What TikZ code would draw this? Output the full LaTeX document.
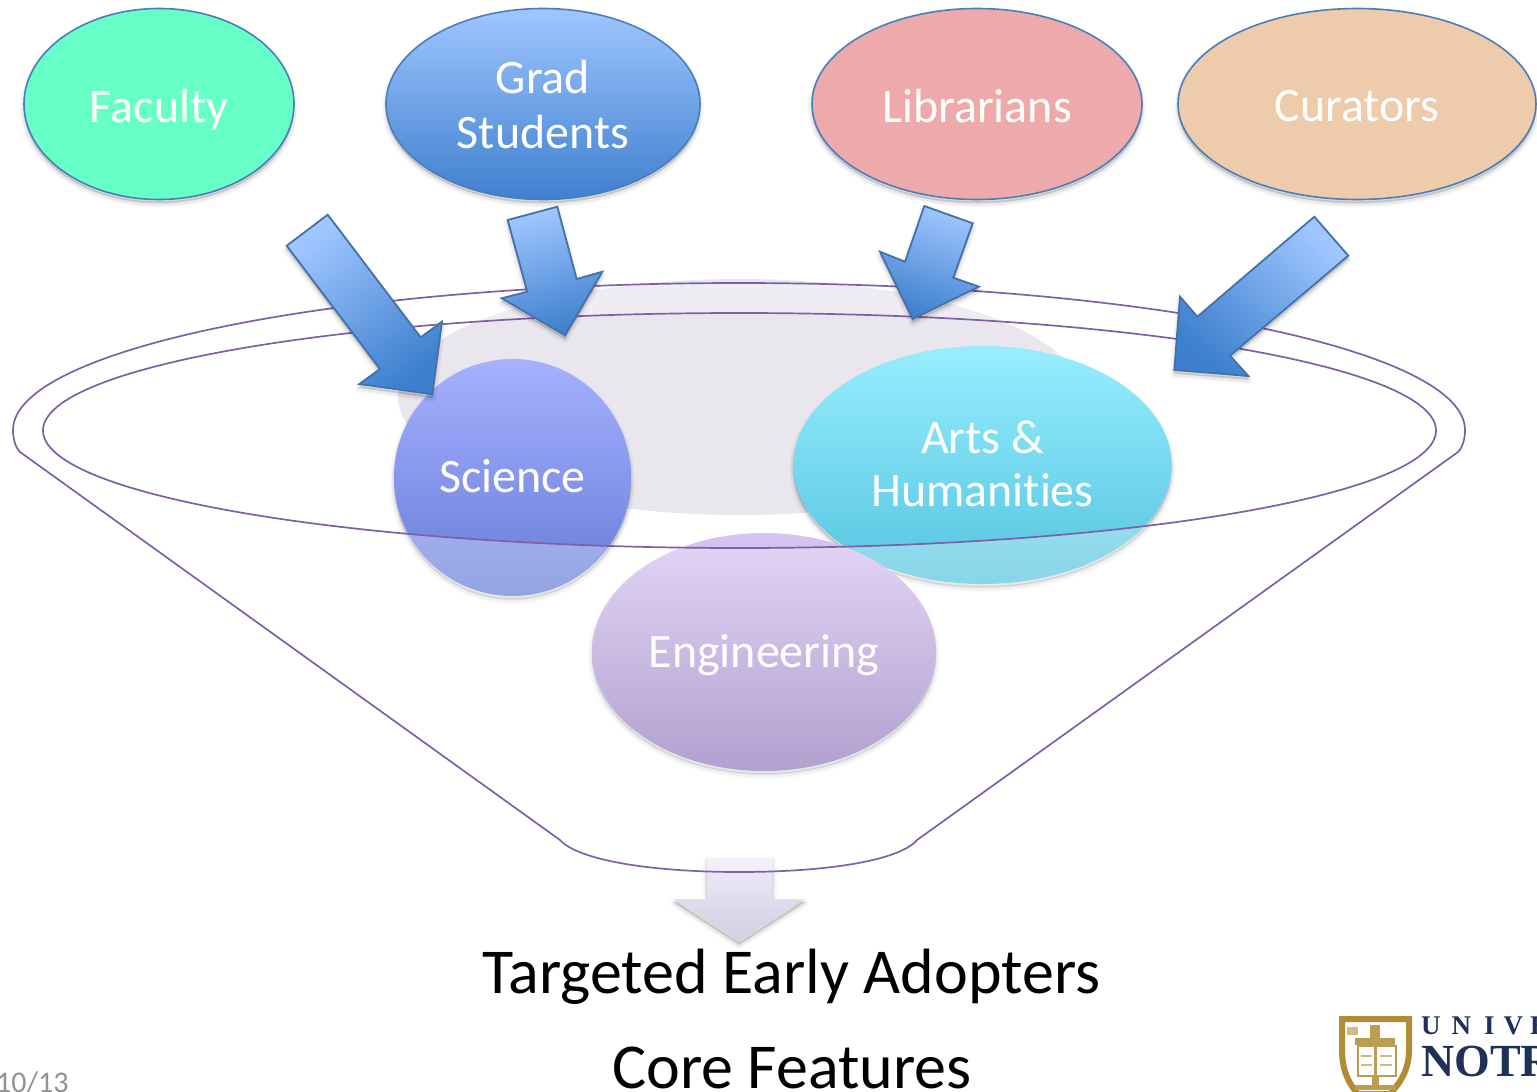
\documentclass[tikz,border=0pt]{standalone}
\usepackage{fontspec}
\setmainfont{Carlito}[Ligatures=NoCommon]
\newfontfamily\logofont{Liberation Serif}
\usetikzlibrary{shapes.geometric}
\definecolor{edgeblue}{HTML}{4A7EBB}
\definecolor{funnelline}{HTML}{7F5FA8}
\definecolor{arrowtop}{HTML}{A0C6FF}
\definecolor{arrowbot}{HTML}{3D80CE}
\definecolor{logogold}{HTML}{B08D35}
\definecolor{logonavy}{HTML}{1F3158}
\definecolor{discgrey}{HTML}{E9E6EE}
\definecolor{downtop}{HTML}{F0ECFA}
\definecolor{downbot}{HTML}{D3CDE2}
\definecolor{scitop}{HTML}{A6B1FF}
\definecolor{scibot}{HTML}{667CD8}
\definecolor{artstop}{HTML}{97EEFF}
\definecolor{artsbot}{HTML}{55C4E0}
\definecolor{engtop}{HTML}{D8C5F2}
\definecolor{engbot}{HTML}{9178BC}
\definecolor{facfill}{HTML}{66FFC8}
\definecolor{gradtop}{HTML}{9FC6FF}
\definecolor{gradbot}{HTML}{3F80CF}
\definecolor{libfill}{HTML}{EEAAAA}
\definecolor{curfill}{HTML}{EECBAA}
\tikzset{
  softshadow/.style={
    preaction={draw=black,line join=round,line width=8pt,draw opacity=.03,fill=black,fill opacity=.03,transform canvas={yshift=-4pt}},
    preaction={draw=black,line join=round,line width=4.5pt,draw opacity=.05,fill=black,fill opacity=.03,transform canvas={yshift=-4pt}},
    preaction={draw=black,line join=round,line width=1.5pt,draw opacity=.08,fill=black,fill opacity=.05,transform canvas={yshift=-3pt}}},
  blob/.style={ellipse,inner sep=0pt,align=center,text=white,softshadow,
    font=\fontsize{48}{55}\selectfont},
  outlined/.style={draw=edgeblue,line width=1.6pt},
  person/.style={blob,outlined},
  blockarrow/.style={softshadow,draw=edgeblue!90!black,line width=1.8pt,line join=miter,top color=arrowtop,bottom color=arrowbot},
  funnel/.style={draw=funnelline,line width=1.7pt},
  bigtext/.style={anchor=base,text=black,font=\fontsize{64}{64}\selectfont}
}
\begin{document}
\begin{tikzpicture}[x=1pt,y=-1pt]
\useasboundingbox (0,0) rectangle (1537,1092);
\clip (0,0) rectangle (1537,1092);
% back disc and downward arrow
\fill[discgrey] (740,397) ellipse [x radius=342pt,y radius=118pt];
\path[softshadow,top color=downtop,bottom color=downbot]
  (706.7,857.3) -- (772.7,857.3) -- (772.7,899) -- (804.3,899) -- (739,941) -- (674.3,899) -- (706.7,899) -- cycle;
% groups
\node[blob,top color=scitop,bottom color=scibot,minimum width=237pt,minimum height=237pt,text height=30pt,text depth=0pt] (science) at (512.5,477.5) {Science};
\node[blob,font=\fontsize{48}{53}\selectfont,top color=artstop,bottom color=artsbot,minimum width=378pt,minimum height=238pt,text height=83pt,text depth=0pt] (arts) at (982.5,465) {Arts \&\\Humanities};
\node[blob,top color=engtop,bottom color=engbot,minimum width=344pt,minimum height=238pt,text height=30pt,text depth=0pt] (engineering) at (764,652) {Engineering};
% funnel body
\fill[white,fill opacity=.3,even odd rule]
  (20,452) .. controls (15,447) and (13,438) .. (13,430) .. controls (13,349) and (338,283) .. (739,283)
  .. controls (1140,283) and (1465,349) .. (1465,430) .. controls (1465,438) and (1463,447) .. (1458,452)
  -- (917,840) .. controls (900,860) and (830,872) .. (739,872) .. controls (650,872) and (578,860) .. (560,840) -- cycle
  (43,430.5) .. controls (43,365.6) and (354.3,313) .. (739.5,313) .. controls (1124.7,313) and (1436,365.6) .. (1436,430.5)
  .. controls (1436,495.4) and (1124.7,548) .. (739.5,548) .. controls (354.3,548) and (43,495.4) .. (43,430.5) -- cycle;
\draw[funnel]
  (20,452) .. controls (15,447) and (13,438) .. (13,430) .. controls (13,349) and (338,283) .. (739,283)
  .. controls (1140,283) and (1465,349) .. (1465,430) .. controls (1465,438) and (1463,447) .. (1458,452)
  -- (917,840) .. controls (900,860) and (830,872) .. (739,872) .. controls (650,872) and (578,860) .. (560,840) -- cycle;
\draw[funnel]
  (43,430.5) .. controls (43,365.6) and (354.3,313) .. (739.5,313) .. controls (1124.7,313) and (1436,365.6) .. (1436,430.5)
  .. controls (1436,495.4) and (1124.7,548) .. (739.5,548) .. controls (354.3,548) and (43,495.4) .. (43,430.5) -- cycle;
% people
\node[person,fill=facfill,minimum width=270pt,minimum height=191pt,text height=36pt,text depth=0pt] (faculty) at (159,104) {Faculty};
\node[person,top color=gradtop,bottom color=gradbot,minimum width=314pt,minimum height=191pt,text height=89pt,text depth=0pt] (grad) at (543,104) {Grad\\Students};
\node[person,fill=libfill,minimum width=330pt,minimum height=191pt,text height=37pt,text depth=0pt] (librarians) at (977,104) {Librarians};
\node[person,fill=curfill,minimum width=358pt,minimum height=191pt,text height=35pt,text depth=0pt] (curators) at (1357,104) {Curators};
% block arrows
\path[blockarrow,shading angle=37]
  (327.7,214.7) -- (286.7,245.7) -- (380,369) -- (359.3,384) -- (432.3,394.3) -- (442,321.7) -- (420.7,337.3) -- cycle;
\path[blockarrow,shading angle=15]
  (557.3,206.7) -- (507.7,220) -- (527.3,291.7) -- (501.7,298.3) -- (565,335.3) -- (602.3,271.7) -- (576.7,279) -- cycle;
\path[blockarrow,shading angle=-18]
  (924.3,206) -- (972.7,223.3) -- (953.3,277.7) -- (979,286.7) -- (912.7,319) -- (880,251.7) -- (905,261.7) -- cycle;
\path[blockarrow,shading angle=-43]
  (1314.3,216.7) -- (1348.3,255.7) -- (1230,355.7) -- (1248.3,376) -- (1174.3,370) -- (1180,296.7) -- (1197.3,316.7) -- cycle;
% captions
\node[bigtext] (adopters) at (791.5,993) {Targeted Early Adopters};
\node[bigtext] (core) at (792,1088) {Core Features};
\node[anchor=base west,inner sep=0pt,text=gray!85!white,font=\fontsize{30}{30}\selectfont] (pagenum) at (-4,1092) {10/13};
% logo
\path[fill=white,draw=logogold,line width=6pt]
  (1342,1019) -- (1409,1019) -- (1409,1050) .. controls (1409,1072) and (1398,1085) .. (1390,1094) -- (1358,1094) .. controls (1350,1085) and (1342,1072) .. (1342,1050) -- cycle;
\fill[logogold!85!white] (1370,1025) rectangle (1380,1043);
\fill[logogold!85!white] (1355,1038) rectangle (1395,1045);
\fill[logogold!60!white] (1347,1027) rectangle (1358,1035);
\draw[logogold!85!white,line width=2pt] (1358,1046) rectangle (1375,1076) (1376,1046) rectangle (1396,1076);
\draw[logogold!60!white,line width=1.5pt] (1361,1056) -- (1372,1056) (1361,1065) -- (1372,1065) (1380,1056) -- (1392,1056) (1380,1065) -- (1392,1065);
\fill[logogold!85!white] (1372,1076) rectangle (1379,1086);
\fill[logogold!85!white] (1355,1085) rectangle (1396,1090);
\node[anchor=base west,inner sep=0pt,text=logonavy,font=\logofont\bfseries\fontsize{27}{27}\selectfont] (logotop) at (1421,1034) {U\kern11pt N\kern13pt I\kern9pt V\kern7pt E};
\node[anchor=base west,inner sep=0pt,text=logonavy,font=\logofont\bfseries\fontsize{46}{46}\selectfont] (logomain) at (1421,1076) {NOTR};
\end{tikzpicture}
\end{document}
